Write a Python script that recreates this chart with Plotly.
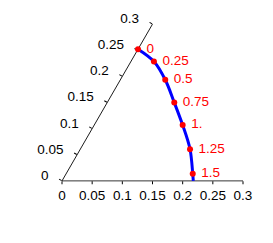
import plotly.graph_objects as go

# parameter values labelled on the curve
t_labels = ["0", "0.25", "0.5", "0.75", "1.", "1.25", "1.5"]
# polar coordinates of labelled points (r, theta in degrees)
r_pts = [0.252, 0.2497, 0.2395, 0.2269, 0.2203, 0.2186, 0.2170]
theta_pts = [60.0, 52.4, 44.4, 34.9, 24.8, 13.9, 3.1]
# curve continues to the axis at theta=0
r_end = [0.2176]
theta_end = [0.0]

r_curve = r_pts + r_end
theta_curve = theta_pts + theta_end

radial_ticks = [0, 0.05, 0.1, 0.15, 0.2, 0.25, 0.3]
radial_labels = ["0", "0.05", "0.1", "0.15", "0.2", "0.25", "0.3"]

FONT = "Liberation Sans, Arial, sans-serif"

fig = go.Figure()

# dummy (empty) trace so the base polar subplot renders
fig.add_trace(go.Scatterpolar(r=[], theta=[], subplot="polar", showlegend=False,
                              hoverinfo="skip"))

fig.add_trace(go.Scatterpolar(
    r=r_curve, theta=theta_curve, mode="lines", subplot="polar2",
    line=dict(color="rgb(0,0,255)", width=3, shape="spline"),
    showlegend=False, hoverinfo="skip"))

fig.add_trace(go.Scatterpolar(
    r=r_pts, theta=theta_pts, mode="markers+text", subplot="polar2",
    marker=dict(color="rgb(255,0,0)", size=6),
    text=["\u00a0" + s for s in t_labels], textposition="middle right",
    textfont=dict(color="rgb(255,0,0)", size=13.5, family=FONT),
    showlegend=False, hoverinfo="skip"))

dom_x = [54 / 273, 235 / 273]
dom_y = [(243 - 173) / 243, (243 - 16) / 243]

common_ang = dict(visible=True, showline=False, showgrid=False, showticklabels=False,
                  ticks="", direction="counterclockwise", rotation=0)

fig.update_layout(
    width=273, height=243,
    margin=dict(l=0, r=0, t=0, b=0),
    paper_bgcolor="white",
    font=dict(family=FONT, size=13, color="black"),
    polar=dict(
        domain=dict(x=dom_x, y=dom_y),
        sector=[0, 60], bgcolor="rgba(0,0,0,0)",
        radialaxis=dict(range=[0, 0.3], angle=0, side="clockwise",
                        tickvals=radial_ticks, ticktext=radial_labels,
                        showgrid=False, showline=True, linecolor="black", linewidth=0.8,
                        ticks="outside", ticklen=3, tickcolor="black",
                        tickfont=dict(size=13.5, family=FONT, color="black")),
        angularaxis=common_ang,
    ),
    polar2=dict(
        domain=dict(x=dom_x, y=dom_y),
        sector=[0, 60], bgcolor="rgba(0,0,0,0)",
        radialaxis=dict(range=[0, 0.3], angle=60, side="counterclockwise",
                        tickvals=radial_ticks, ticktext=radial_labels,
                        tickangle=60, layer="below traces",
                        showgrid=False, showline=True, linecolor="black", linewidth=0.8,
                        ticks="outside", ticklen=3, tickcolor="black",
                        tickfont=dict(size=13.5, family=FONT, color="black")),
        angularaxis=common_ang,
    ),
)

fig.write_html("out.html")
